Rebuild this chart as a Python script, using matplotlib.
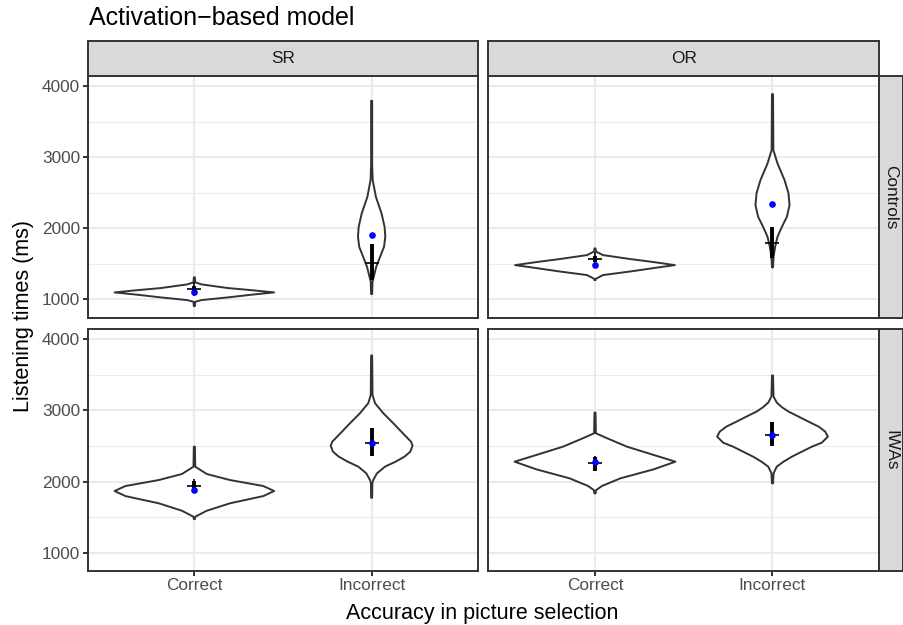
import matplotlib
matplotlib.use("Agg")
import matplotlib.pyplot as plt
from matplotlib.patches import Rectangle

plt.rcParams['font.family'] = ['Liberation Sans', 'DejaVu Sans']

W, H = 904, 625

# ---------------- data ----------------
types = ["SR", "OR"]
groups = ["Controls", "IWAs"]
accuracy = ["Correct", "Incorrect"]
y_major = [1000, 2000, 3000, 4000]
y_minor = [1500, 2500, 3500]

# violin outlines (value, half-width in category units)
sr_ctrl_cor_y = [906, 966, 990, 1028, 1065, 1098, 1130, 1159, 1211, 1239, 1310]
sr_ctrl_cor_w = [0.003, 0.005, 0.04, 0.19, 0.32, 0.45, 0.32, 0.19, 0.04, 0.005, 0.003]
sr_ctrl_inc_y = [1075, 1250, 1318, 1459, 1600, 1740, 1880, 2021, 2209, 2443, 2678, 2900, 3793]
sr_ctrl_inc_w = [0.003, 0.005, 0.012, 0.026, 0.048, 0.07, 0.077, 0.073, 0.056, 0.024, 0.006, 0.003, 0.003]
or_ctrl_cor_y = [1271, 1290, 1342, 1393, 1440, 1482, 1525, 1567, 1623, 1670, 1690, 1717]
or_ctrl_cor_w = [0.003, 0.005, 0.045, 0.2, 0.33, 0.45, 0.33, 0.2, 0.045, 0.008, 0.004, 0.003]
or_ctrl_inc_y = [1450, 1600, 1740, 1880, 2021, 2162, 2326, 2491, 2678, 2913, 3100, 3888]
or_ctrl_inc_w = [0.003, 0.006, 0.015, 0.028, 0.053, 0.081, 0.096, 0.09, 0.068, 0.028, 0.005, 0.003]
sr_iwa_cor_y = [1474, 1507, 1591, 1695, 1797, 1868, 1938, 2022, 2107, 2210, 2491]
sr_iwa_cor_w = [0.003, 0.005, 0.07, 0.2, 0.389, 0.45, 0.389, 0.201, 0.07, 0.005, 0.003]
sr_iwa_inc_y = [1774, 1976, 2022, 2116, 2210, 2280, 2350, 2420, 2505, 2561, 2679, 2820, 2960, 3101, 3218, 3771]
sr_iwa_inc_w = [0.003, 0.004, 0.009, 0.03, 0.075, 0.135, 0.185, 0.218, 0.231, 0.222, 0.176, 0.122, 0.066, 0.019, 0.005, 0.003]
or_iwa_cor_y = [1835, 1880, 1940, 2046, 2173, 2280, 2374, 2491, 2609, 2679, 2969]
or_iwa_cor_w = [0.003, 0.006, 0.04, 0.143, 0.331, 0.453, 0.331, 0.18, 0.068, 0.005, 0.003]
or_iwa_inc_y = [1976, 2117, 2210, 2280, 2350, 2420, 2491, 2547, 2632, 2702, 2772, 2842, 2913, 2983, 3045, 3110, 3194, 3490]
or_iwa_inc_w = [0.003, 0.006, 0.024, 0.062, 0.109, 0.165, 0.222, 0.278, 0.312, 0.297, 0.26, 0.203, 0.147, 0.09, 0.053, 0.024, 0.006, 0.003]

# model means (blue points), observed means (+) and interval (thick bar), [Correct, Incorrect]
sr_ctrl_model = [1098, 1904]
or_ctrl_model = [1482, 2340]
sr_iwa_model = [1882, 2538]
or_iwa_model = [2280, 2655]
sr_ctrl_obs = [1145, 1515]
or_ctrl_obs = [1563, 1796]
sr_iwa_obs = [1938, 2540]
or_iwa_obs = [2257, 2655]
sr_ctrl_lo = [1090, 1271]
sr_ctrl_hi = [1185, 1778]
or_ctrl_lo = [1520, 1577]
or_ctrl_hi = [1613, 2013]
sr_iwa_lo = [1835, 2360]
sr_iwa_hi = [2013, 2758]
or_iwa_lo = [2153, 2500]
or_iwa_hi = [2350, 2834]

panels = {
    ("Controls", "SR"): ([(sr_ctrl_cor_y, sr_ctrl_cor_w), (sr_ctrl_inc_y, sr_ctrl_inc_w)],
                         sr_ctrl_model, sr_ctrl_obs, sr_ctrl_lo, sr_ctrl_hi),
    ("Controls", "OR"): ([(or_ctrl_cor_y, or_ctrl_cor_w), (or_ctrl_inc_y, or_ctrl_inc_w)],
                         or_ctrl_model, or_ctrl_obs, or_ctrl_lo, or_ctrl_hi),
    ("IWAs", "SR"): ([(sr_iwa_cor_y, sr_iwa_cor_w), (sr_iwa_inc_y, sr_iwa_inc_w)],
                     sr_iwa_model, sr_iwa_obs, sr_iwa_lo, sr_iwa_hi),
    ("IWAs", "OR"): ([(or_iwa_cor_y, or_iwa_cor_w), (or_iwa_inc_y, or_iwa_inc_w)],
                     or_iwa_model, or_iwa_obs, or_iwa_lo, or_iwa_hi),
}

# ---------------- layout ----------------
fig = plt.figure(figsize=(W / 100, H / 100), dpi=100)
fig.patch.set_facecolor("white")


def rect(x0, y0, x1, y1):
    return [x0 / W, 1 - y1 / H, (x1 - x0) / W, (y1 - y0) / H]


col_x = [(88, 478), (488.5, 879)]
row_y = [(76, 317.5), (329, 571)]
border = "#333333"
grid_c = "#EBEBEB"
LW = 1.4

for ri, g in enumerate(groups):
    for ci, t in enumerate(types):
        x0, x1 = col_x[ci]
        y0, y1 = row_y[ri]
        ax = fig.add_axes(rect(x0, y0, x1, y1))
        ax.set_xlim(0.4, 2.6)
        ax.set_ylim(745, 4143)
        ax.set_xticks([1, 2])
        ax.set_yticks(y_major)
        ax.set_yticks(y_minor, minor=True)
        ax.set_axisbelow(True)
        ax.grid(True, which="major", color=grid_c, lw=1.5)
        ax.yaxis.grid(True, which="minor", color=grid_c, lw=0.75)
        for s in ax.spines.values():
            s.set_color(border)
            s.set_linewidth(LW)
            s.set_zorder(10)
        ax.tick_params(which="minor", length=0)
        ax.tick_params(which="major", color=border, width=LW, length=3.6,
                       labelcolor="#4D4D4D", labelsize=12.4, pad=2.0)
        if ci == 0:
            ax.set_yticklabels([str(v) for v in y_major])
        else:
            ax.tick_params(axis="y", length=0, labelleft=False)
        if ri == 1:
            ax.set_xticklabels(accuracy)
            ax.tick_params(axis="x", pad=1.2)
        else:
            ax.tick_params(axis="x", length=0, labelbottom=False)

        viol, model, obs, lo, hi = panels[(g, t)]
        for k, (vy, vw) in enumerate(viol):
            xc = k + 1
            xs = [xc + w for w in vw] + [xc - w for w in vw[::-1]]
            ys = list(vy) + list(vy[::-1])
            ax.fill(xs, ys, facecolor="white", edgecolor=border, lw=LW,
                    joinstyle="round", zorder=3)
            ax.plot([xc, xc], [lo[k], hi[k]], color="black", lw=2.8,
                    solid_capstyle="butt", zorder=4)
            ax.plot([xc], [obs[k]], marker="+", color="black", ms=10.5, mew=1.2,
                    linestyle="none", zorder=5)
            ax.plot([xc], [model[k]], marker="o", color="#0000FF", ms=4.8,
                    mec="none", linestyle="none", zorder=6)

# strips
for ci, t in enumerate(types):
    x0, x1 = col_x[ci]
    r = Rectangle((x0 / W, 1 - 75.5 / H), (x1 - x0) / W, (75.5 - 41) / H,
                  transform=fig.transFigure, facecolor="#D9D9D9",
                  edgecolor=border, lw=LW)
    fig.add_artist(r)
    fig.text((x0 + x1) / 2 / W, 1 - 63.3 / H, t, ha="center", va="baseline",
             fontsize=12.4, color="#1A1A1A")
for ri, g in enumerate(groups):
    y0, y1 = row_y[ri]
    r = Rectangle((879 / W, 1 - y1 / H), (903 - 879) / W, (y1 - y0) / H,
                  transform=fig.transFigure, facecolor="#D9D9D9",
                  edgecolor=border, lw=LW)
    fig.add_artist(r)
    fig.text(886 / W, 1 - (y0 + y1) / 2 / H, g, ha="center", va="baseline",
             rotation=-90, rotation_mode="anchor", fontsize=12.4, color="#1A1A1A")

fig.text(89 / W, 1 - 25 / H, "Activation\u2212based model", ha="left", va="baseline",
         fontsize=18, color="black")
fig.text(482.5 / W, 1 - 619 / H, "Accuracy in picture selection", ha="center",
         va="baseline", fontsize=15.5, color="black")
fig.text(29 / W, 1 - 316 / H, "Listening times (ms)", ha="center", va="baseline",
         rotation=90, rotation_mode="anchor", fontsize=15.5, color="black")

fig.savefig("out.png", dpi=100, facecolor="white")
